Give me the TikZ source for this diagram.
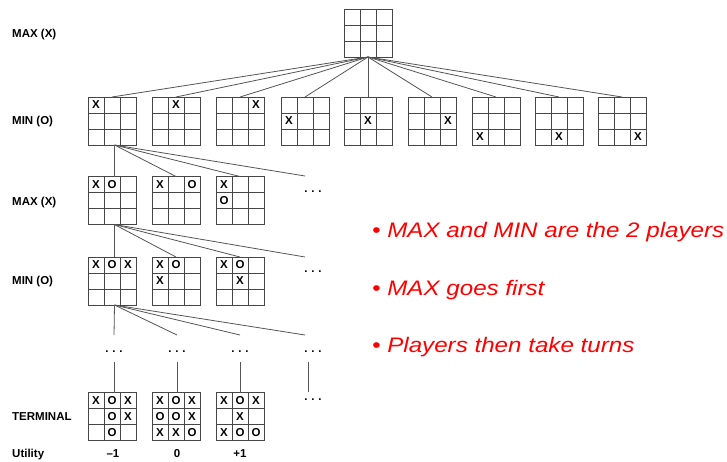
\documentclass[tikz,border=0pt]{standalone}
\usepackage{fontspec}
\setmainfont{Liberation Sans}
\usetikzlibrary{calc}

\definecolor{gridc}{RGB}{70,70,70}
\definecolor{edgec}{RGB}{85,85,85}
\definecolor{notered}{RGB}{255,0,0}

\newcommand\labelfont{\fontsize{11.5}{13}\selectfont\bfseries}
\newcommand\markfont{\fontsize{11.5}{13}\selectfont\bfseries}
\newcommand\notefont{\fontsize{21}{25}\selectfont\itshape}

\tikzset{
  board/.style={draw=gridc, line width=0.9pt, minimum size=48pt, inner sep=0pt, outer sep=0pt},
  grid line/.style={draw=gridc, line width=0.9pt},
  cellmark/.style={font=\markfont, inner sep=0pt},
  edge/.style={draw=edgec, line width=0.8pt},
  level label/.style={font=\labelfont, anchor=base west, inner sep=0pt},
  utility/.style={font=\labelfont, anchor=base, inner sep=0pt},
  ellipsis/.style={font=\labelfont, inner sep=0pt},
  note/.style={font=\notefont, text=notered, anchor=base west, inner sep=0pt},
}

% a tic-tac-toe board: name, centre x, centre y, marks as column/row/symbol
\newcommand\tttboard[4]{%
  \node[board] (#1) at (#2,#3) {};
  \draw[grid line] (#2-8,#3-24) -- (#2-8,#3+24) (#2+8,#3-24) -- (#2+8,#3+24)
                   (#2-24,#3-8) -- (#2+24,#3-8) (#2-24,#3+8) -- (#2+24,#3+8);
  \if\relax\detokenize{#4}\relax\else
    \foreach \c/\r/\s in {#4} {\node[cellmark] (#1-\c\r) at (#2+16*\c-32,#3+16*\r-32) {\s};}
  \fi
}
\newcommand\dotsmark{{.}\hspace{3.8pt}{.}\hspace{3.8pt}{.}}

\begin{document}
\begin{tikzpicture}[x=1pt,y=-1pt]
\useasboundingbox (0,0) rectangle (727,461);

% level labels
\node[level label] (lab1) at (12,37)  {MAX (X)};
\node[level label] (lab2) at (12,124) {MIN (O)};
\node[level label] (lab3) at (12,205) {MAX (X)};
\node[level label] (lab4) at (12,284) {MIN (O)};
\node[level label] (lab5) at (12,420) {TERMINAL};
\node[level label] (lab6) at (12,457) {Utility};

% root
\tttboard{root}{368}{33}{}

% MIN level: all nine first moves
\tttboard{b1}{112}{121}{1/1/X}
\tttboard{b2}{176}{121}{2/1/X}
\tttboard{b3}{240}{121}{3/1/X}
\tttboard{b4}{305}{121}{1/2/X}
\tttboard{b5}{368}{121}{2/2/X}
\tttboard{b6}{432}{121}{3/2/X}
\tttboard{b7}{496}{121}{1/3/X}
\tttboard{b8}{559}{121}{2/3/X}
\tttboard{b9}{622}{121}{3/3/X}

% MAX level
\tttboard{n1}{112}{200.5}{1/1/X,2/1/O}
\tttboard{n2}{176}{200.5}{1/1/X,3/1/O}
\tttboard{n3}{240}{200.5}{1/1/X,1/2/O}
\node[ellipsis] (dn) at (313,192) {\dotsmark};

% MIN level
\tttboard{p1}{112}{281}{1/1/X,2/1/O,3/1/X}
\tttboard{p2}{176}{281}{1/1/X,2/1/O,1/2/X}
\tttboard{p3}{240}{281}{1/1/X,2/1/O,2/2/X}
\node[ellipsis] (dp) at (313,272) {\dotsmark};

% elided levels
\node[ellipsis] (d1) at (114,352) {\dotsmark};
\node[ellipsis] (d2) at (177,352) {\dotsmark};
\node[ellipsis] (d3) at (240,352) {\dotsmark};
\node[ellipsis] (d4) at (313,352) {\dotsmark};

% terminal states
\tttboard{t1}{112}{416.5}{1/1/X,2/1/O,3/1/X,2/2/O,3/2/X,2/3/O}
\tttboard{t2}{176}{416.5}{1/1/X,2/1/O,3/1/X,1/2/O,2/2/O,3/2/X,1/3/X,2/3/X,3/3/O}
\tttboard{t3}{240}{416.5}{1/1/X,2/1/O,3/1/X,2/2/X,1/3/X,2/3/O,3/3/O}
\node[ellipsis] (dt) at (313,400) {\dotsmark};

% utilities
\node[utility] (u1) at (113,457) {–1};
\node[utility] (u2) at (177,457) {0};
\node[utility] (u3) at (240,457) {+1};

% free ends of the fans towards elided siblings
\coordinate (fn) at (305,176);
\coordinate (fp) at (305,257);
\coordinate (g1) at (114,335);
\coordinate (g2) at (177,335);
\coordinate (g3) at (240,335);
\coordinate (g4) at (305,335);

% root fan
\foreach \k in {1,...,9} {\draw[edge] (root.south) -- (b\k.north);}

% fan below b1
\draw[edge] ([xshift=2.5pt]b1.south) -- ([xshift=2.5pt]n1.north);
\draw[edge] ([xshift=2.5pt]b1.south) -- (n2.north);
\draw[edge] ([xshift=2.5pt]b1.south) -- (n3.north);
\draw[edge] ([xshift=2.5pt]b1.south) -- (fn);

% fan below n1
\draw[edge] ([xshift=2.5pt]n1.south) -- ([xshift=2.5pt]p1.north);
\draw[edge] ([xshift=2.5pt]n1.south) -- (p2.north);
\draw[edge] ([xshift=2.5pt]n1.south) -- (p3.north);
\draw[edge] ([xshift=2.5pt]n1.south) -- (fp);

% fan below p1
\draw[edge] ([xshift=2.5pt]p1.south) -- (g1);
\draw[edge] ([xshift=2.5pt]p1.south) -- (g2);
\draw[edge] ([xshift=2.5pt]p1.south) -- (g3);
\draw[edge] ([xshift=2.5pt]p1.south) -- (g4);

% down to the terminal states
\draw[edge] ([yshift=-10pt]d1.center) -- (d1.center |- t1.north);
\draw[edge] ([yshift=-10pt]d2.center) -- (d2.center |- t2.north);
\draw[edge] ([yshift=-10pt]d3.center) -- (d3.center |- t3.north);
\draw[edge] ([xshift=-5pt,yshift=-10pt]d4.center) -- ([xshift=-5pt,yshift=8pt]dt.center);

% notes
\node[note] (note1) at (372,237) {\scalebox{1.15}[1]{\textbullet\ MAX and MIN are the 2 players}};
\node[note] (note2) at (372,295) {\scalebox{1.15}[1]{\textbullet\ MAX goes first}};
\node[note] (note3) at (372,352) {\scalebox{1.15}[1]{\textbullet\ Players then take turns}};
\end{tikzpicture}
\end{document}
